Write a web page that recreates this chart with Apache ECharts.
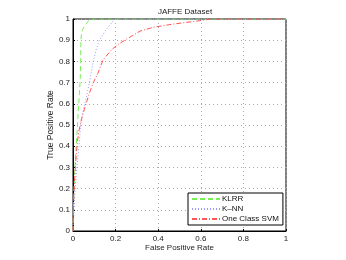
<!DOCTYPE html>
<html><head><meta charset="utf-8">
<script src="https://cdn.jsdelivr.net/npm/echarts@6/dist/echarts.min.js"></script>
<style>html,body{margin:0;padding:0;background:#fff}#c{width:346px;height:260px}</style>
</head><body><div id="c"></div>
<script>
const seriesNames = ['KLRR', 'K\u2013NN', 'One Class SVM'];
const klrrFpr = [0, 0.002, 0.005, 0.009, 0.015, 0.02, 0.025, 0.03, 0.034, 0.036, 0.037, 0.04, 0.045, 0.06, 0.08, 1];
const klrrTpr = [0, 0.1, 0.2, 0.3, 0.4, 0.48, 0.57, 0.65, 0.72, 0.8, 0.9, 0.93, 0.95, 0.975, 1, 1];
const knnFpr = [0, 0.005, 0.01, 0.018, 0.028, 0.036, 0.048, 0.06, 0.077, 0.095, 0.11, 0.124, 0.155, 0.18, 0.197, 1];
const knnTpr = [0, 0.1, 0.2, 0.3, 0.4, 0.5, 0.57, 0.62, 0.7, 0.8, 0.86, 0.9, 0.95, 0.98, 1, 1];
const svmFpr = [0, 0.001, 0.005, 0.011, 0.02, 0.027, 0.039, 0.055, 0.074, 0.094, 0.117, 0.141, 0.18, 0.211, 0.258, 0.315, 0.377, 0.47, 0.58, 0.65, 1];
const svmTpr = [0, 0.067, 0.193, 0.303, 0.414, 0.468, 0.524, 0.579, 0.642, 0.697, 0.744, 0.807, 0.854, 0.88, 0.909, 0.943, 0.961, 0.976, 0.99, 1, 1];

const zip = (a, b) => a.map((v, i) => [v, b[i]]);
const font = 'Liberation Sans, Arial, sans-serif';
const chart = echarts.init(document.getElementById('c'), null, {renderer: 'canvas'});
const gridLine = {show: true, lineStyle: {color: '#aaaaaa', type: [1, 3], width: 1}};
const mk = (name, data, color, type) => ({
  name, type: 'line', data, showSymbol: false, symbol: 'none', animation: false,
  lineStyle: {color, width: 1, type}, itemStyle: {color}
});
chart.setOption({
  animation: false,
  title: {text: 'JAFFE Dataset', left: 180, top: 3, textAlign: 'center',
    textStyle: {fontFamily: font, fontSize: 8, fontWeight: 'normal', color: '#222'}},
  grid: {left: 73, top: 19, width: 213, height: 212, show: true, borderColor: '#000', borderWidth: 1},
  xAxis: {type: 'value', min: 0, max: 1, interval: 0.2,
    name: 'False Positive Rate', nameLocation: 'middle', nameGap: 13, nameMoveOverlap: false,
    nameTextStyle: {fontFamily: font, fontSize: 8, color: '#222'},
    axisLine: {show: true, lineStyle: {color: '#000'}},
    axisTick: {show: true, inside: true, length: 2, lineStyle: {color: '#000'}},
    axisLabel: {fontFamily: font, fontSize: 8, color: '#222', margin: 4},
    splitLine: gridLine},
  yAxis: {type: 'value', min: 0, max: 1, interval: 0.1,
    name: 'True Positive Rate', nameLocation: 'middle', nameGap: 18, nameMoveOverlap: false,
    nameTextStyle: {fontFamily: font, fontSize: 8.5, color: '#222', padding: [0, 0, 0, 0]},
    axisLine: {show: true, lineStyle: {color: '#000'}},
    axisTick: {show: true, inside: true, length: 2, lineStyle: {color: '#000'}},
    axisLabel: {fontFamily: font, fontSize: 8, color: '#222', margin: 3},
    splitLine: gridLine},
  legend: {orient: 'vertical', left: 188, top: 193, width: 97,
    padding: [2, 4, 2, 3], itemGap: 2, itemWidth: 28, itemHeight: 9,
    borderColor: '#000', borderWidth: 1, backgroundColor: '#fff',
    itemStyle: {opacity: 0, borderWidth: 0},
    textStyle: {fontFamily: font, fontSize: 8, color: '#111', padding: [0, 0, 0, -3]},
    data: seriesNames.map(n => ({name: n}))},
  series: [
    mk(seriesNames[0], zip(klrrFpr, klrrTpr), '#77ee55', [5, 3]),
    mk(seriesNames[1], zip(knnFpr, knnTpr), '#9999ff', [1, 2]),
    mk(seriesNames[2], zip(svmFpr, svmTpr), '#ff5555', [5, 2, 1, 2])
  ]
});
</script></body></html>
